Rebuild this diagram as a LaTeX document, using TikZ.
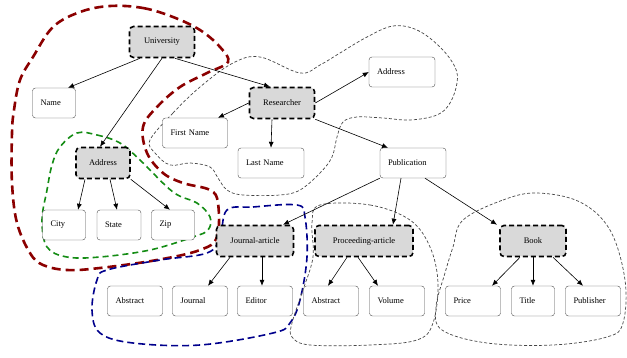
\documentclass[tikz,border=0pt]{standalone}
\usepackage{fontspec}
\setmainfont{Liberation Serif}
\usetikzlibrary{arrows.meta}
\definecolor{zonered}{RGB}{139,0,0}
\definecolor{zonegreen}{RGB}{20,140,20}
\definecolor{zoneblue}{RGB}{0,0,140}
\definecolor{zonegray}{RGB}{70,70,70}

\begin{document}
\begin{tikzpicture}[x=1pt,y=-1pt,
  leafbox/.style={draw=black!70, fill=white, rounded corners=3pt,
    minimum height=30pt, text width=#1, align=left, inner xsep=8pt,
    font=\fontsize{8.5}{10}\selectfont},
  groupbox/.style={draw=black, line width=1.6pt, dash pattern=on 5pt off 3pt,
    fill=gray!30, rounded corners=4pt, minimum height=31pt, minimum width=#1,
    font=\fontsize{8.5}{10}\selectfont},
  conn/.style={-{Latex[length=6pt,width=5pt]}, line width=0.6pt},
  zone/.style={smooth cycle, tension=0.6},
  redzone/.style={draw=zonered, line width=2.6pt, dash pattern=on 9pt off 5pt},
  greenzone/.style={draw=zonegreen, line width=1.6pt, dash pattern=on 6pt off 4pt},
  bluezone/.style={draw=zoneblue, line width=1.6pt, dash pattern=on 7pt off 4pt},
  grayzone/.style={draw=zonegray, line width=0.7pt, dash pattern=on 3pt off 2pt}]
\useasboundingbox (0,0) rectangle (627,358);

% --- regions ---
\draw[redzone] plot[zone] coordinates {(110,6) (143,8) (173,17) (200,30) (220,47)
  (228,62) (207,73) (180,87) (157,107) (143,127) (147,153) (163,173) (183,183)
  (210,190) (218,203) (217,237) (200,250) (157,260) (100,268) (67,270) (43,265)
  (30,253) (17,223) (12,183) (12,133) (14,110) (20,80) (33,57) (53,27) (80,12)};
\draw[greenzone] plot[zone] coordinates {(77,133) (97,135) (120,143) (140,160)
  (173,192) (197,203) (210,217) (208,230) (193,237) (150,250) (100,257) (67,257)
  (47,247) (42,220) (47,190) (52,165) (60,147)};
\draw[bluezone] plot[zone] coordinates {(227,210) (253,207) (297,205) (305,217)
  (307,257) (300,300) (290,323) (273,333) (200,345) (133,343) (100,333) (92,310)
  (97,280) (107,270) (160,260) (207,253) (220,237)};
\draw[grayzone] plot[zone] coordinates {(150,140) (173,113) (200,87) (233,63)
  (260,57) (300,73) (320,65) (340,53) (367,37) (393,26) (417,30) (440,47) (455,67)
  (457,83) (450,103) (437,115) (410,120) (383,118) (357,117) (343,122) (337,137)
  (332,157) (320,173) (300,190) (280,195) (243,195) (227,190) (218,178) (210,167)
  (190,163) (170,165) (155,153)};
\draw[grayzone] plot[zone] coordinates {(320,205) (370,205) (410,220) (430,247)
  (438,283) (433,323) (417,340) (370,345) (310,345) (292,337) (292,323) (303,290)
  (313,257) (312,223)};
\draw[grayzone] plot[zone] coordinates {(463,220) (503,200) (537,193) (580,202)
  (610,230) (625,280) (623,323) (607,337) (553,345) (487,343) (442,330) (436,307)
  (445,273) (453,247)};

% --- nodes ---
\node[groupbox=65pt] (univ) at (162,42) {University};
\node[leafbox=27pt] (name) at (54,103) {Name};
\node[groupbox=65pt] (res) at (282,103) {Researcher};
\node[leafbox=50pt] (resaddr) at (402,72) {Address};
\node[leafbox=49pt] (first) at (195,133) {First Name};
\node[leafbox=50pt] (last) at (271,163) {Last Name};
\node[leafbox=50pt] (pub) at (413,163) {Publication};
\node[groupbox=54pt] (addr) at (103,163) {Address};
\node[leafbox=27pt] (city) at (64,225) {City};
\node[leafbox=28pt] (state) at (119,225) {State};
\node[leafbox=27pt] (zip) at (173,225) {Zip};
\node[groupbox=77pt] (jart) at (255,241) {Journal-article};
\node[groupbox=98pt] (proc) at (364,241) {Proceeding-article};
\node[groupbox=66pt] (book) at (533,241) {Book};
\node[leafbox=39pt] (jabs) at (135,301) {Abstract};
\node[leafbox=39pt] (journal) at (200,301) {Journal};
\node[leafbox=39pt] (editor) at (265,301) {Editor};
\node[leafbox=39pt] (pabs) at (331,301) {Abstract};
\node[leafbox=39pt] (volume) at (397,301) {Volume};
\node[leafbox=39pt] (price) at (473,301) {Price};
\node[leafbox=27pt] (title) at (533,301) {Title};
\node[leafbox=39pt] (publisher) at (593,301) {Publisher};

% --- edges ---
\draw[conn] ([xshift=-22pt]univ.south) -- ([xshift=14pt]name.north);
\draw[conn] (univ.south) -- ([xshift=-3pt]addr.north);
\draw[conn] ([xshift=13pt]univ.south) -- ([xshift=-12pt]res.north);
\draw[conn] (res.west) -- ([xshift=23pt]first.north);
\draw[conn] ([xshift=-10pt]res.south) -- (last.north);
\draw[conn] (res.east) -- (resaddr.west);
\draw[conn] (res.south east) -- ([xshift=-25pt]pub.north);
\draw[conn] (pub.south west) -- ([xshift=28pt]jart.north);
\draw[conn] ([xshift=-12pt]pub.south) -- ([xshift=29pt]proc.north);
\draw[conn] ([xshift=12pt]pub.south) -- ([xshift=-36pt]book.north);
\draw[conn] ([xshift=-18pt]addr.south) -- ([xshift=14pt]city.north);
\draw[conn] ([xshift=7pt]addr.south) -- ([xshift=-2pt]state.north);
\draw[conn] (addr.south east) -- ([xshift=-3pt]zip.north);
\draw[conn] ([xshift=-25pt]jart.south) -- ([xshift=8pt]journal.north);
\draw[conn] ([xshift=7pt]jart.south) -- ([xshift=-3pt]editor.north);
\draw[conn] ([xshift=-17pt]proc.south) -- ([xshift=-3pt]pabs.north);
\draw[conn] ([xshift=-6pt]proc.south) -- ([xshift=-19pt]volume.north);
\draw[conn] ([xshift=-13pt]book.south) -- ([xshift=19pt]price.north);
\draw[conn] (book.south) -- (title.north);
\draw[conn] ([xshift=20pt]book.south) -- ([xshift=-10pt]publisher.north);
\end{tikzpicture}
\end{document}
